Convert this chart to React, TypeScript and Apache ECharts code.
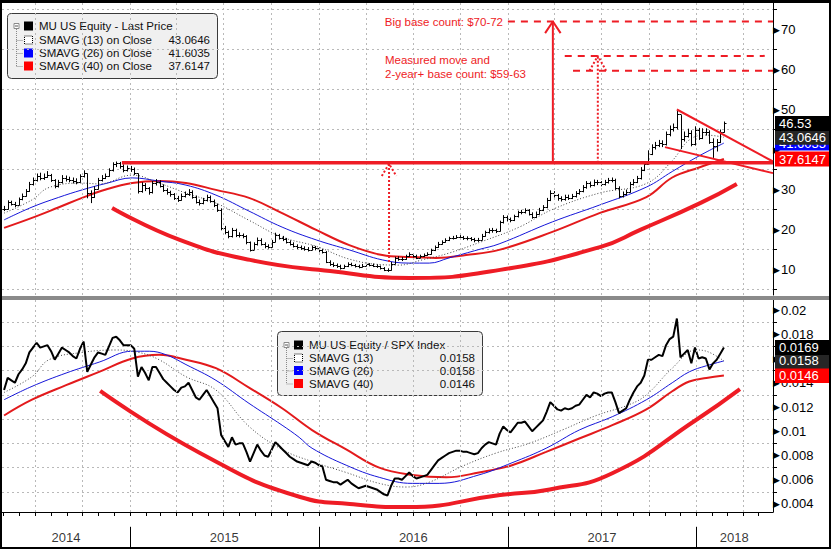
import React, { useEffect, useRef } from 'react';
import * as echarts from 'echarts';

// ---------- axis range ----------
const AXIS_MIN = '2014-04-28';
const AXIS_MAX = '2018-05-29';
const FIRST_WEEK = [2014, 4, 2]; // Friday 2 May 2014

// ---------- top panel: MU weekly bars ----------
const priceClose = [
  25.2, 26.8, 26.5, 26.2, 27.6, 28.5, 29.6, 31.4, 32.3, 33.4,
  32.8, 33.2, 33.6, 32.4, 30.9, 31.8, 33.0, 32.6, 32.4, 32.2,
  32.0, 33.3, 34.2, 29.2, 28.2, 30.2, 32.4, 33.0, 33.4, 34.8,
  36.3, 36.6, 36.0, 35.0, 35.4, 35.2, 34.2, 29.6, 31.2, 30.3,
  29.3, 31.6, 32.0, 31.0, 30.0, 29.3, 28.8, 28.0, 27.5, 28.5,
  28.8, 29.5, 28.2, 27.0, 26.6, 27.4, 28.2, 27.2, 26.2, 25.0,
  20.4, 19.4, 18.3, 19.9, 18.6, 18.6, 18.3, 16.8, 15.0, 16.3,
  17.5, 16.5, 15.8, 15.7, 17.0, 18.6, 18.0, 17.6, 17.0, 16.5,
  16.0, 15.6, 15.4, 15.2, 15.0, 15.6, 15.3, 14.8, 14.5, 12.0,
  11.4, 11.1, 11.0, 10.5, 10.8, 11.4, 11.2, 10.9, 10.7, 11.0,
  11.3, 11.2, 11.0, 10.8, 10.4, 10.0, 9.8, 11.5, 12.8, 12.7,
  12.6, 13.3, 13.9, 13.4, 13.0, 13.3, 13.6, 13.9, 14.8, 15.6,
  16.5, 16.9, 17.4, 17.8, 18.0, 18.2, 18.1, 17.9, 17.8, 17.6,
  17.3, 17.5, 18.5, 19.3, 19.8, 19.8, 19.7, 21.8, 23.2, 22.6,
  22.4, 23.3, 24.3, 24.4, 24.8, 24.0, 23.2, 24.0, 24.9, 25.6,
  27.4, 29.2, 28.6, 27.8, 27.6, 28.2, 28.0, 28.4, 29.1, 29.6,
  30.6, 31.6, 31.1, 32.0, 31.8, 31.4, 31.9, 32.4, 32.5, 30.5,
  28.4, 28.9, 29.5, 31.4, 32.0, 32.8, 35.0, 36.5, 39.0, 40.6,
  41.2, 41.7, 41.4, 43.8, 45.2, 45.6, 49.0, 42.6, 43.4, 44.2,
  41.4, 45.0, 43.0, 44.5, 44.3, 42.0, 41.0, 42.0, 44.5, 46.53,
];
const priceHigh = [
  25.9, 27.3, 27.2, 26.9, 28.0, 29.0, 30.1, 31.9, 33.0, 34.0,
  34.2, 34.0, 34.6, 33.9, 32.6, 32.4, 33.6, 33.5, 33.2, 33.0,
  32.8, 33.8, 34.8, 34.0, 29.8, 30.8, 32.9, 33.6, 34.0, 35.3,
  36.8, 37.0, 36.9, 36.3, 36.0, 35.9, 35.5, 34.0, 31.8, 31.6,
  30.6, 32.1, 32.6, 32.3, 31.3, 30.3, 29.7, 29.1, 28.4, 29.0,
  29.5, 30.1, 29.8, 28.5, 27.5, 27.9, 28.7, 28.5, 27.5, 26.5,
  25.3, 20.9, 19.7, 20.4, 20.2, 19.3, 19.0, 18.6, 17.0, 16.8,
  18.0, 17.8, 16.8, 16.3, 17.4, 19.2, 18.9, 18.4, 17.9, 17.3,
  16.8, 16.3, 16.0, 15.8, 15.6, 16.0, 15.9, 15.5, 15.1, 14.6,
  12.3, 11.8, 11.5, 11.2, 11.2, 11.8, 11.7, 11.4, 11.2, 11.4,
  11.7, 11.6, 11.5, 11.3, 11.0, 10.6, 10.3, 11.9, 13.2, 13.3,
  13.1, 13.7, 14.3, 14.1, 13.7, 13.7, 14.0, 14.3, 15.2, 16.0,
  16.9, 17.3, 17.8, 18.2, 18.4, 18.6, 18.6, 18.4, 18.3, 18.1,
  17.9, 17.9, 18.9, 19.7, 20.3, 20.4, 20.2, 22.2, 23.6, 23.5,
  23.0, 23.7, 24.7, 24.9, 25.3, 25.1, 24.3, 24.5, 25.4, 26.1,
  27.9, 29.8, 29.6, 28.9, 28.3, 28.7, 28.7, 28.9, 29.6, 30.1,
  31.1, 32.1, 32.0, 32.5, 32.4, 32.1, 32.4, 32.9, 33.0, 32.7,
  30.8, 29.5, 30.0, 31.9, 32.6, 33.4, 35.6, 37.1, 39.8, 41.3,
  41.9, 42.4, 42.3, 44.5, 46.0, 46.5, 50.0, 48.6, 44.5, 45.2,
  44.8, 45.8, 45.4, 45.3, 45.3, 44.8, 42.8, 42.6, 45.0, 47.0,
];
const priceLow = [
  24.6, 25.0, 26.0, 25.6, 26.0, 27.3, 28.2, 29.4, 31.0, 32.0,
  32.3, 32.4, 32.9, 31.9, 30.3, 30.5, 31.5, 32.0, 31.8, 31.5,
  31.3, 31.7, 33.0, 27.8, 26.6, 27.9, 30.0, 32.0, 32.6, 33.2,
  34.5, 35.6, 35.2, 34.3, 34.5, 34.4, 33.6, 29.0, 29.2, 29.6,
  28.7, 29.0, 31.0, 30.5, 29.4, 28.7, 28.2, 27.4, 26.9, 27.2,
  28.0, 28.4, 27.7, 26.5, 26.0, 26.3, 27.0, 26.7, 25.6, 24.4,
  19.8, 18.8, 17.8, 18.0, 18.1, 18.0, 17.8, 16.3, 14.5, 14.9,
  16.0, 16.0, 15.3, 15.2, 15.5, 16.8, 17.5, 17.1, 16.5, 16.0,
  15.5, 15.1, 14.9, 14.7, 14.5, 14.8, 14.8, 14.3, 14.0, 11.6,
  10.9, 10.6, 10.4, 10.0, 10.2, 10.6, 10.8, 10.5, 10.3, 10.5,
  10.8, 10.8, 10.6, 10.4, 10.0, 9.6, 9.4, 9.7, 11.3, 12.2,
  12.1, 12.4, 13.1, 13.0, 12.6, 12.8, 13.1, 13.4, 13.7, 14.6,
  15.4, 16.2, 16.7, 17.1, 17.5, 17.7, 17.6, 17.4, 17.3, 17.1,
  16.8, 16.9, 17.3, 18.2, 19.0, 19.2, 19.1, 19.5, 21.5, 22.0,
  21.8, 22.1, 23.0, 23.8, 24.0, 23.5, 22.7, 22.9, 23.7, 24.6,
  25.3, 27.1, 28.0, 27.2, 27.0, 27.2, 27.4, 27.6, 28.0, 28.7,
  29.3, 30.2, 30.5, 30.8, 31.1, 30.8, 31.0, 31.5, 31.8, 29.9,
  27.8, 28.0, 28.5, 29.2, 31.0, 31.6, 32.5, 34.6, 36.2, 38.6,
  40.0, 40.6, 40.6, 41.0, 43.3, 44.5, 45.0, 40.1, 42.0, 43.0,
  40.8, 41.0, 42.4, 42.6, 43.5, 41.4, 37.9, 39.5, 41.6, 44.2,
];

const sma13Top = [
  ['2014-05-02', 24.1], ['2014-06-25', 27.4], ['2014-07-28', 30.5], ['2014-09-30', 31.6],
  ['2014-11-02', 31.4], ['2015-01-05', 33.6], ['2015-02-26', 31.6], ['2015-04-19', 29.1],
  ['2015-06-16', 26.6], ['2015-08-19', 22.3], ['2015-10-22', 18.1], ['2015-12-27', 15.8],
  ['2016-02-29', 12.6], ['2016-05-03', 11.2], ['2016-06-04', 11.1], ['2016-07-19', 12.4],
  ['2016-09-09', 14.1], ['2016-11-12', 17.0], ['2017-01-23', 20.6], ['2017-03-28', 25.0],
  ['2017-06-27', 29.1], ['2017-09-26', 31.5], ['2017-11-15', 37.2], ['2017-12-18', 42.4],
  ['2018-01-20', 43.6], ['2018-02-23', 43.0646],
];
const sma26Top = [
  ['2014-05-02', 22.4], ['2014-06-25', 25.6], ['2014-08-15', 28.0], ['2014-09-30', 29.9],
  ['2014-11-15', 31.5], ['2015-01-05', 32.9], ['2015-02-26', 32.1], ['2015-04-19', 31.1],
  ['2015-06-16', 28.6], ['2015-08-19', 24.6], ['2015-10-22', 20.6], ['2015-12-27', 17.4],
  ['2016-02-29', 14.9], ['2016-05-03', 12.4], ['2016-06-24', 11.6], ['2016-08-02', 11.6],
  ['2016-09-09', 12.9], ['2016-11-06', 15.0], ['2016-12-15', 16.4], ['2017-03-28', 21.9],
  ['2017-06-27', 26.1], ['2017-09-26', 30.6], ['2017-11-15', 34.5], ['2018-01-06', 38.4],
  ['2018-02-23', 41.6035],
];
const sma40Top = [
  ['2014-05-02', 20.4], ['2014-06-25', 22.9], ['2014-08-15', 25.5], ['2014-09-30', 27.9],
  ['2014-11-15', 30.0], ['2015-01-05', 31.6], ['2015-02-26', 32.1], ['2015-04-19', 31.6],
  ['2015-06-16', 29.9], ['2015-08-19', 27.9], ['2015-10-22', 24.1], ['2015-12-27', 19.9],
  ['2016-02-29', 16.1], ['2016-05-03', 13.6], ['2016-06-24', 13.1], ['2016-08-15', 12.9],
  ['2016-10-12', 13.6], ['2016-12-15', 14.9], ['2017-03-28', 19.4], ['2017-06-27', 24.1],
  ['2017-09-26', 28.1], ['2017-11-15', 33.0], ['2018-01-06', 35.5], ['2018-02-23', 37.6147],
];

// ---------- bottom panel: MU / SPX ----------
const relClose = [
  .0134, .0144, .0142, .0140, .0147, .0151, .0156, .0165, .0169, .0173,
  .0169, .0170, .0171, .0166, .0159, .0164, .0169, .0167, .0165, .0162,
  .0160, .0168, .0174, .0149, .0155, .0161, .0165, .0164, .0163, .0170,
  .0177, .0178, .0175, .0171, .0171, .0171, .0168, .0145, .0153, .0148,
  .0142, .0153, .0153, .0148, .0143, .0140, .0137, .0134, .0132, .0136,
  .0137, .0140, .0134, .0128, .0126, .0130, .0134, .0129, .0124, .0119,
  .0097, .0092, .0087, .0095, .0089, .0090, .0090, .0083, .0075, .0082,
  .0089, .0084, .0080, .0079, .0085, .0091, .0088, .0085, .0082, .0079,
  .0077, .0075, .0074, .0073, .0072, .0075, .0074, .0072, .0071, .0060,
  .0059, .0058, .0058, .0056, .0058, .0060, .0057, .0055, .0053, .0054,
  .0055, .0054, .0053, .0052, .0050, .0048, .0047, .0055, .0061, .0061,
  .0060, .0063, .0066, .0063, .0061, .0062, .0063, .0064, .0068, .0072,
  .0076, .0078, .0080, .0082, .0083, .0084, .0084, .0083, .0083, .0082,
  .0081, .0082, .0086, .0089, .0091, .0090, .0089, .0098, .0104, .0101,
  .0099, .0103, .0107, .0107, .0108, .0104, .0100, .0103, .0106, .0109,
  .0116, .0124, .0121, .0118, .0117, .0119, .0118, .0119, .0121, .0122,
  .0126, .0130, .0128, .0132, .0131, .0129, .0131, .0132, .0132, .0124,
  .0115, .0117, .0119, .0126, .0132, .0137, .0140, .0146, .0159, .0159,
  .0161, .0163, .0162, .0171, .0176, .0178, .0193, .0161, .0164, .0167,
  .0156, .0169, .0160, .0161, .0160, .0151, .0156, .0159, .0164, .0169,
];
const sma13Bot = [
  ['2014-05-02', .0132], ['2014-06-25', .0145], ['2014-07-28', .0159], ['2014-09-30', .0165],
  ['2014-12-05', .0167], ['2015-01-18', .0165], ['2015-02-26', .0159], ['2015-04-19', .0145],
  ['2015-06-16', .0134], ['2015-08-19', .0104], ['2015-10-22', .0085], ['2015-12-19', .0075],
  ['2016-02-23', .0066], ['2016-04-27', .0057], ['2016-06-18', .0054], ['2016-08-02', .0058],
  ['2016-10-04', .0071], ['2016-12-09', .0082], ['2017-02-11', .0090], ['2017-04-16', .0101],
  ['2017-06-21', .0113], ['2017-08-24', .0122], ['2017-09-26', .0130], ['2017-11-15', .0152],
  ['2017-12-31', .0167], ['2018-01-20', .0166], ['2018-02-23', .0158],
];
const sma26Bot = [
  ['2014-05-02', .0126], ['2014-06-25', .0137], ['2014-08-30', .0148], ['2014-11-02', .0157],
  ['2015-01-05', .0166], ['2015-02-07', .0166], ['2015-03-12', .0163], ['2015-04-19', .0155],
  ['2015-06-16', .0142], ['2015-08-19', .0123], ['2015-10-22', .0105], ['2015-11-24', .0095],
  ['2015-12-19', .0086], ['2016-02-23', .0072], ['2016-04-27', .0062], ['2016-06-30', .0057],
  ['2016-08-21', .0057], ['2016-11-06', .0064], ['2017-01-09', .0074], ['2017-03-16', .0086],
  ['2017-05-19', .0101], ['2017-07-22', .0112], ['2017-09-26', .0126], ['2017-11-15', .0140],
  ['2017-12-18', .0149], ['2018-01-20', .0154], ['2018-02-23', .0158],
];
const sma40Bot = [
  ['2014-05-02', .0113], ['2014-06-25', .0126], ['2014-08-30', .0138], ['2014-11-02', .0149],
  ['2015-01-05', .0160], ['2015-02-26', .0163], ['2015-04-19', .0159], ['2015-06-16', .0152],
  ['2015-08-19', .0136], ['2015-10-22', .0119], ['2015-12-19', .0101], ['2016-02-23', .0085],
  ['2016-04-27', .0070], ['2016-06-30', .0064], ['2016-09-04', .0062], ['2016-11-06', .0066],
  ['2017-01-09', .0072], ['2017-03-16', .0083], ['2017-05-19', .0094], ['2017-07-22', .0105],
  ['2017-09-26', .0118], ['2017-11-15', .0133], ['2017-12-18', .0141], ['2018-01-20', .0144],
  ['2018-02-23', .0146],
];

// ---------- hand-drawn annotations ----------
const resistanceLevel = [['2014-12-16', 36.7], ['2018-05-29', 36.7]];
const bigBaseShaft = [['2017-03-29', 36.7], ['2017-03-29', 72]];
const bigBaseHead = [['2017-03-14', 69.1], ['2017-03-29', 72], ['2017-04-13', 69.1]];
const measuredShaft = [['2017-06-24', 36.7], ['2017-06-24', 63.4]];
const measuredHead = [['2017-06-08', 59.7], ['2017-06-24', 63.4], ['2017-07-10', 59.7]];
const lowShaft = [['2016-05-16', 11.9], ['2016-05-16', 36.4]];
const lowHead = [['2016-05-02', 33.4], ['2016-05-16', 36.4], ['2016-05-30', 33.4]];
const target72 = [['2017-01-01', 72], ['2018-05-29', 72]];
const target63 = [['2017-04-21', 63.4], ['2018-05-13', 63.4]];
const target60 = [['2017-05-07', 59.7], ['2018-05-29', 59.7]];
const pennantUpper = [['2017-11-24', 50.0], ['2018-05-29', 37.0]];
const pennantLower = [['2017-11-01', 40.6], ['2018-05-29', 34.1]];
const cupTop = [
  ['2014-11-27', 25.4], ['2015-04-07', 17.4], ['2015-08-21', 12.4], ['2016-01-23', 9.6],
  ['2016-06-25', 7.9], ['2016-12-17', 9.9], ['2017-06-28', 15.6], ['2017-09-14', 19.9],
  ['2018-01-08', 26.6], ['2018-03-20', 31.4],
];
const cupBottom = [
  ['2014-11-04', .01332], ['2015-05-16', .00821], ['2015-11-26', .00458], ['2016-03-01', .0040],
  ['2016-06-20', .00375], ['2016-12-17', .00474], ['2017-03-23', .0052], ['2017-07-23', .00656],
  ['2017-12-31', .01093], ['2018-03-26', .01348],
];

// ---------- texts ----------
const topLegendLabels = ['MU US Equity - Last Price', 'SMAVG (13) on Close', 'SMAVG (26) on Close', 'SMAVG (40) on Close'];
const topLegendValues = ['', '43.0646', '41.6035', '37.6147'];
const botLegendLabels = ['MU US Equity / SPX Index', 'SMAVG (13)', 'SMAVG (26)', 'SMAVG (40)'];
const botLegendValues = ['', '0.0158', '0.0158', '0.0146'];
const topBadges = [
  { v: 37.6147, text: '37.6147', bg: '#ff0000' },
  { v: 41.6035, text: '41.6035', bg: '#0000ff' },
  { v: 43.0646, text: '43.0646', bg: '#262626' },
  { v: 46.53, text: '46.53', bg: '#000000' },
];
const botBadges = [
  { v: 0.0146, text: '0.0146', bg: '#ff0000' },
  { v: 0.0158, text: '0.0158', bg: '#262626' },
  { v: 0.0169, text: '0.0169', bg: '#000000' },
];
// tick labels hidden behind the last-value badges
const topHiddenLabels = [40];
const botHiddenLabels = [0.016];
const topMinorTicks = [5, 15, 25, 35, 45, 55, 65, 75];
const botMinorTicks = [0.005, 0.007, 0.009, 0.011, 0.013, 0.015, 0.017, 0.019];
const quarterLines = [
  '2014-07-01', '2014-10-01', '2015-01-01', '2015-04-01', '2015-07-01', '2015-10-01',
  '2016-01-01', '2016-04-01', '2016-07-01', '2016-10-01', '2017-01-01', '2017-04-01',
  '2017-07-01', '2017-10-01', '2018-01-01', '2018-04-01',
];
const yearLabels = ['2014', '2015', '2016', '2017', '2018'];
const yearLabelDates = ['2014-08-30', '2015-07-02', '2016-07-02', '2017-07-02', '2018-03-15'];
const yearBoundaries = ['2015-01-01', '2016-01-01', '2017-01-01', '2018-01-01'];

const RED = '#ee1c25';
const GRID_GRAY = '#b9b9b9';
const FONT = '"Liberation Sans", Arial, sans-serif';

function weekDate(i: number) {
  return new Date(FIRST_WEEK[0], FIRST_WEEK[1], FIRST_WEEK[2] + 7 * i).getTime();
}

function monthTicks() {
  const out: number[] = [];
  for (let y = 2014; y <= 2018; y++) {
    for (let m = 0; m < 12; m++) out.push(new Date(y, m, 1).getTime());
  }
  return out;
}

function annot(data: any[], width: number, type: any, idx = 0, smooth: any = false) {
  return {
    type: 'line', xAxisIndex: idx, yAxisIndex: idx, data, symbol: 'none', showSymbol: false,
    smooth, silent: true, z: 6, lineStyle: { color: RED, width, type },
  };
}

function vGrid(idx: number) {
  return {
    type: 'line', xAxisIndex: idx, yAxisIndex: idx, data: [], silent: true, z: 0,
    markLine: {
      silent: true, symbol: 'none', animation: false, label: { show: false },
      lineStyle: { color: GRID_GRAY, type: [2, 3], width: 1 },
      data: quarterLines.map((d) => ({ xAxis: d })),
    },
  };
}

function badges(idx: number, list: { v: number; text: string; bg: string }[]) {
  return {
    type: 'line', xAxisIndex: idx, yAxisIndex: idx, data: [], silent: true, z: 20,
    markLine: {
      silent: true, symbol: 'none', animation: false, precision: 6,
      lineStyle: { color: 'rgba(0,0,0,0)', width: 1 },
      label: {
        show: true, position: 'end', distance: 2, color: '#fff', fontSize: 13, fontFamily: FONT,
        padding: [1, 2, 0, 4], width: 50, lineHeight: 14,
        formatter: (p: any) => p.name,
      },
      data: list.map((b) => ({ yAxis: b.v, name: b.text, label: { backgroundColor: b.bg } })),
    },
  };
}

function legend(x0: number, y0: number, w: number, h: number, rows: number[], labels: string[], values: string[]) {
  const sqX = x0 + 17;
  const textX = x0 + 32;
  const valX = x0 + w - 7;
  const treeX = x0 + 9.5;
  const children: any[] = [
    { type: 'rect', shape: { x: x0 + 0.5, y: y0 + 0.5, width: w, height: h, r: 4 }, style: { fill: '#f0f0f0', stroke: '#3a3a3a', lineWidth: 1 } },
    { type: 'rect', shape: { x: treeX - 2.5, y: rows[0] - 2.5, width: 5, height: 5 }, style: { fill: '#fff', stroke: '#8a8a8a', lineWidth: 1 } },
    { type: 'line', shape: { x1: treeX - 1.5, y1: rows[0], x2: treeX + 1.5, y2: rows[0] }, style: { stroke: '#555', lineWidth: 1 } },
    { type: 'line', shape: { x1: treeX, y1: rows[0] + 3, x2: treeX, y2: rows[3] + 0.5 }, style: { stroke: '#888', lineWidth: 1, lineDash: [1, 1] } },
  ];
  for (let r = 1; r < 4; r++) {
    children.push({ type: 'line', shape: { x1: treeX, y1: rows[r] + 0.5, x2: sqX - 1, y2: rows[r] + 0.5 }, style: { stroke: '#888', lineWidth: 1, lineDash: [1, 1] } });
  }
  const fills = ['#000', '#fff', '#0000ff', '#ff0000'];
  rows.forEach((ry, r) => {
    if (r === 1) {
      children.push({ type: 'rect', shape: { x: sqX + 0.5, y: ry - 4, width: 8, height: 8 }, style: { fill: '#fff', stroke: '#000', lineWidth: 1, lineDash: [1, 1] } });
    } else {
      children.push({ type: 'rect', shape: { x: sqX, y: ry - 4.5, width: 9, height: 9 }, style: { fill: fills[r] } });
    }
    children.push({ type: 'text', x: textX, y: ry, style: { text: labels[r], fill: '#111', font: `11.5px ${FONT}`, textAlign: 'left', textVerticalAlign: 'middle', align: 'left', verticalAlign: 'middle' } });
    if (values[r]) {
      children.push({ type: 'text', x: valX, y: ry, style: { text: values[r], fill: '#111', font: `11.5px ${FONT}`, textAlign: 'right', textVerticalAlign: 'middle', align: 'right', verticalAlign: 'middle' } });
    }
  });
  return { type: 'group', z: 50, children };
}

function buildOption(): any {
  const weeks = priceClose.map((_, i) => weekDate(i));
  const bars = priceClose.map((c, i) => [weeks[i], c, priceHigh[i], priceLow[i]]);
  const rel = relClose.map((v, i) => [weeks[i], v]);

  const rightAxisLabel = (fmt: (v: number) => string, hidden: number[]) => ({
    show: true, margin: 0, showMinLabel: false, showMaxLabel: false,
    formatter: (v: number) => {
      const txt = fmt(v);
      if (hidden.some((h) => Math.abs(h - v) < 1e-7)) return '{t|\u25B6}';
      return `{t|\u25B6}{n|${txt}}`;
    },
    rich: {
      t: { fontSize: 9, fontFamily: '"DejaVu Sans"', color: '#000', padding: [0, 1, 0, 0] },
      n: { fontSize: 13, fontFamily: FONT, color: '#000' },
    },
  });

  const titleText = (x: number, y: number, text: string, align: string) => ({
    type: 'text', x, y, z: 40,
    style: { text, fill: RED, font: `11.5px ${FONT}`, textAlign: align, align, textVerticalAlign: 'middle', verticalAlign: 'middle' },
  });

  return {
    animation: false,
    backgroundColor: '#fff',
    textStyle: { fontFamily: FONT },
    grid: [
      { left: 2, right: 58, top: 3, height: 292 },
      { left: 2, right: 58, top: 300, height: 212 },
      { left: 2, right: 58, top: 512, height: 37 },
    ],
    xAxis: [
      { type: 'time', gridIndex: 0, min: AXIS_MIN, max: AXIS_MAX, axisLine: { show: false }, axisTick: { show: false }, axisLabel: { show: false }, splitLine: { show: false } },
      {
        type: 'time', gridIndex: 1, min: AXIS_MIN, max: AXIS_MAX,
        axisLine: { show: true, lineStyle: { color: '#000', width: 1 } },
        axisTick: { show: true, customValues: monthTicks(), length: 4, lineStyle: { color: '#000' } },
        axisLabel: { show: false }, splitLine: { show: false },
      },
      { type: 'time', gridIndex: 2, min: AXIS_MIN, max: AXIS_MAX, show: false },
    ],
    yAxis: [
      {
        type: 'value', gridIndex: 0, position: 'right', min: 3.625, max: 76.625, minInterval: 10, maxInterval: 10,
        axisLine: { show: true, lineStyle: { color: '#000' } },
        axisTick: { show: true, customValues: topMinorTicks, length: 4, lineStyle: { color: '#000' } },
        axisLabel: rightAxisLabel((v) => String(Math.round(v)), topHiddenLabels),
        splitLine: { show: true, lineStyle: { color: GRID_GRAY, type: [2, 3] } },
      },
      {
        type: 'value', gridIndex: 1, position: 'right', min: 0.00334, max: 0.020825, minInterval: 0.002, maxInterval: 0.002,
        axisLine: { show: true, lineStyle: { color: '#000' } },
        axisTick: { show: true, customValues: botMinorTicks, length: 4, lineStyle: { color: '#000' } },
        axisLabel: rightAxisLabel((v) => String(+v.toFixed(3)), botHiddenLabels),
        splitLine: { show: true, lineStyle: { color: GRID_GRAY, type: [2, 3] } },
      },
      { type: 'value', gridIndex: 2, min: 0, max: 1, show: false },
    ],
    series: [
      vGrid(0),
      vGrid(1),
      // top panel moving averages
      { type: 'line', xAxisIndex: 0, yAxisIndex: 0, data: sma40Top, symbol: 'none', smooth: 0.4, silent: true, z: 2, lineStyle: { color: '#e31a1c', width: 2 } },
      { type: 'line', xAxisIndex: 0, yAxisIndex: 0, data: sma26Top, symbol: 'none', smooth: 0.4, silent: true, z: 2, lineStyle: { color: '#1515d8', width: 1 } },
      { type: 'line', xAxisIndex: 0, yAxisIndex: 0, data: sma13Top, symbol: 'none', smooth: 0.4, silent: true, z: 2, lineStyle: { color: '#444', width: 1, type: [1, 2] } },
      // price bars
      {
        type: 'custom', xAxisIndex: 0, yAxisIndex: 0, data: bars, silent: true, z: 3,
        encode: { x: 0, y: [1, 2, 3] },
        renderItem: (params: any, api: any) => {
          const i = params.dataIndex;
          const t = api.value(0);
          const c = api.value(1);
          const o = i > 0 ? priceClose[i - 1] : c;
          const pc = api.coord([t, c]);
          const ph = api.coord([t, api.value(2)]);
          const pl = api.coord([t, api.value(3)]);
          const po = api.coord([t, o]);
          const x = Math.round(pc[0]) + 0.5;
          const yc = Math.round(pc[1]) + 0.5;
          const yo = Math.round(po[1]) + 0.5;
          const st = { stroke: '#000', lineWidth: 1 };
          return {
            type: 'group',
            children: [
              { type: 'line', shape: { x1: x, y1: ph[1], x2: x, y2: pl[1] }, style: st },
              { type: 'line', shape: { x1: x - 2, y1: yo, x2: x, y2: yo }, style: st },
              { type: 'line', shape: { x1: x, y1: yc, x2: x + 2, y2: yc }, style: st },
            ],
          };
        },
      },
      // top annotations
      annot(cupTop, 4, 'solid', 0, 0.5),
      annot(resistanceLevel, 3.5, 'solid'),
      annot(bigBaseShaft, 2, 'solid'),
      annot(bigBaseHead, 2, 'solid'),
      annot(measuredShaft, 2, [2, 2]),
      annot(measuredHead, 2, [2, 2]),
      annot(lowShaft, 2, [2, 2]),
      annot(lowHead, 2, [2, 2]),
      annot(target72, 2, [7, 6]),
      annot(target63, 2, [7, 6]),
      annot(target60, 2, [7, 6]),
      annot(pennantUpper, 2, 'solid'),
      annot(pennantLower, 2, 'solid'),
      badges(0, topBadges),
      // bottom panel
      { type: 'line', xAxisIndex: 1, yAxisIndex: 1, data: sma40Bot, symbol: 'none', smooth: 0.4, silent: true, z: 2, lineStyle: { color: '#e31a1c', width: 2 } },
      { type: 'line', xAxisIndex: 1, yAxisIndex: 1, data: sma26Bot, symbol: 'none', smooth: 0.4, silent: true, z: 2, lineStyle: { color: '#1515d8', width: 1 } },
      { type: 'line', xAxisIndex: 1, yAxisIndex: 1, data: sma13Bot, symbol: 'none', smooth: 0.4, silent: true, z: 2, lineStyle: { color: '#444', width: 1, type: [1, 2] } },
      { type: 'line', xAxisIndex: 1, yAxisIndex: 1, data: rel, symbol: 'none', silent: true, z: 3, lineStyle: { color: '#000', width: 2 } },
      annot(cupBottom, 4, 'solid', 1, 0.5),
      badges(1, botBadges),
      // year strip
      {
        type: 'scatter', xAxisIndex: 2, yAxisIndex: 2, silent: true, symbolSize: 1,
        itemStyle: { color: 'rgba(0,0,0,0)' },
        data: yearLabelDates.map((d, i) => ({ value: [d, 0.3], name: yearLabels[i] })),
        label: { show: true, position: 'inside', formatter: '{b}', color: '#000', fontSize: 13, fontFamily: FONT },
        markLine: {
          silent: true, symbol: 'none', animation: false, label: { show: false },
          lineStyle: { color: '#000', width: 1, type: 'solid' },
          data: yearBoundaries.map((d) => [{ coord: [d, 0] }, { coord: [d, 0.6] }]),
        },
      },
    ],
    graphic: [
      // panel separator
      { type: 'rect', z: 45, shape: { x: 0, y: 296, width: 831, height: 4 }, style: { fill: '#8a8a8a' } },
      // outer frame
      { type: 'rect', z: 60, shape: { x: 0, y: 0, width: 831, height: 3 }, style: { fill: '#000' } },
      { type: 'rect', z: 60, shape: { x: 0, y: 0, width: 2, height: 549 }, style: { fill: '#000' } },
      { type: 'rect', z: 60, shape: { x: 829, y: 0, width: 2, height: 549 }, style: { fill: '#000' } },
      { type: 'rect', z: 60, shape: { x: 0, y: 547, width: 831, height: 2 }, style: { fill: '#000' } },
      legend(7, 13, 210, 65, [26, 40, 53, 66], topLegendLabels, topLegendValues),
      legend(277, 331, 205, 64, [345, 358, 370.5, 383.5], botLegendLabels, botLegendValues),
      titleText(503, 22, 'Big base count: $70-72', 'right'),
      titleText(385, 60, 'Measured move and', 'left'),
      titleText(385, 74, '2-year+ base count: $59-63', 'left'),
    ],
  };
}

export default function App() {
  const ref = useRef<HTMLDivElement>(null);
  useEffect(() => {
    document.body.style.margin = '0';
    const chart = echarts.init(ref.current!, null, { renderer: 'svg' });
    chart.setOption(buildOption());
    return () => chart.dispose();
  }, []);
  return <div ref={ref} style={{ width: 831, height: 549, background: '#fff' }} />;
}
